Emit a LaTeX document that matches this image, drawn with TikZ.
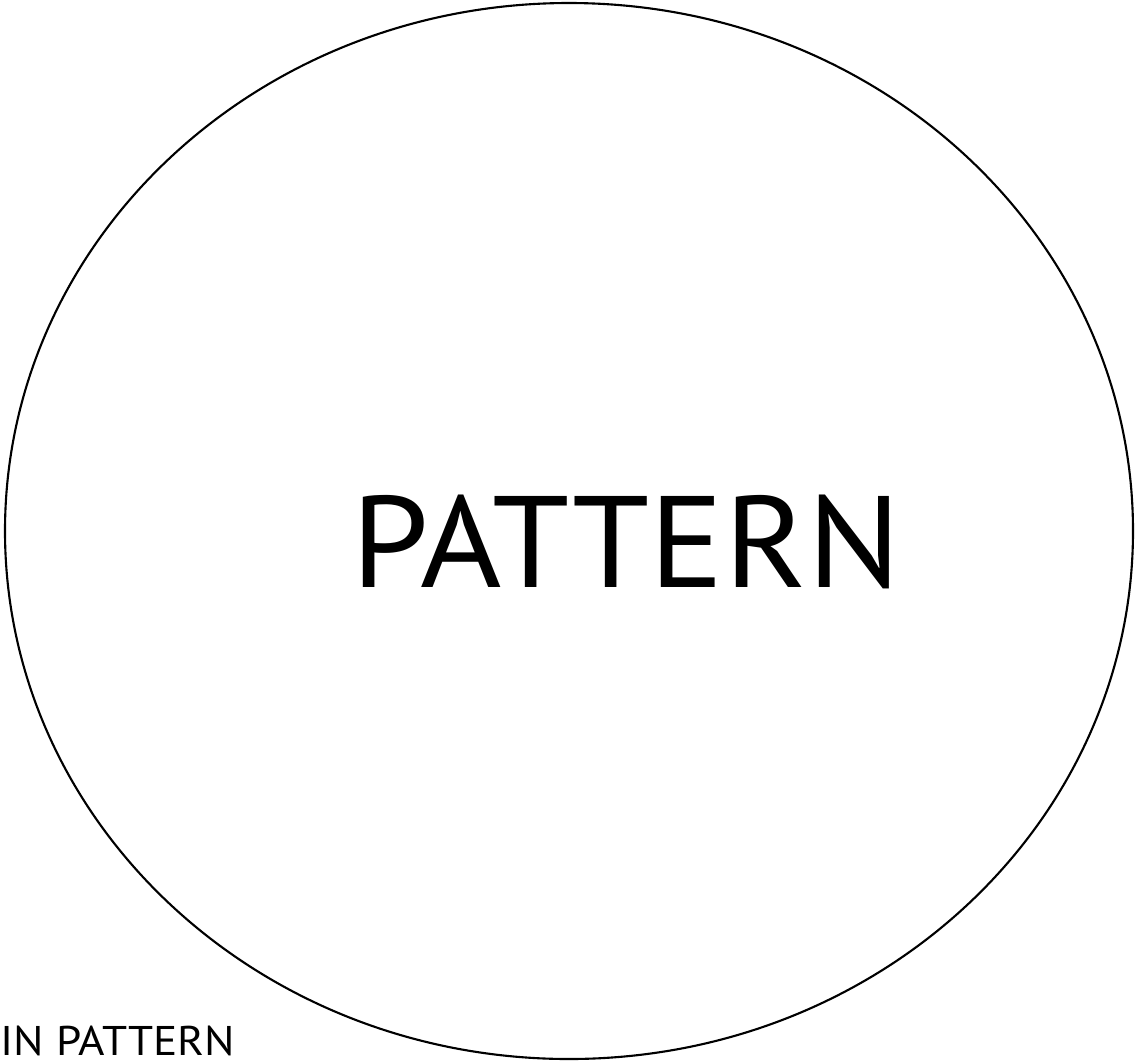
\documentclass[tikz,border=0pt]{standalone}
\usepackage{fontspec}
\setmainfont{PT Sans}
\begin{document}
\begin{tikzpicture}[x=0.01cm, y=-0.01cm, line cap=round, line join=round]
    \def\cx{569}
    \def\cy{531}
    \def\rx{564}
    \def\ry{528}
    \useasboundingbox (0,0) rectangle (1136,1063);
    \draw[line width=0.6pt] (\cx,\cy) ellipse [x radius=\rx, y radius=\ry];
    \node[inner sep=0pt, xscale=1.07] (pattern) at (626,542) {\fontsize{37}{40}\selectfont PATTERN};
    \node[anchor=base west, inner sep=0pt, xscale=1.09] (inpattern) at (0,1055) {\fontsize{11.8}{13}\selectfont IN PATTERN};
  \end{tikzpicture}
\end{document}
